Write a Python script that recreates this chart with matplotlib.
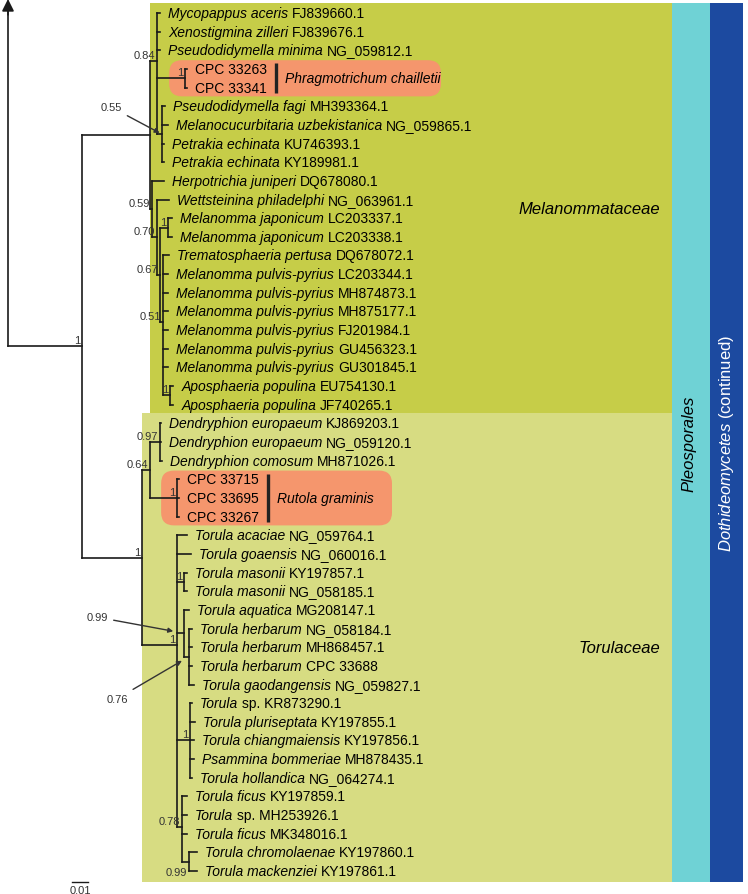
import re
import matplotlib.pyplot as plt
from matplotlib.patches import FancyBboxPatch, Rectangle

plt.rcParams['font.family'] = ['Liberation Sans', 'DejaVu Sans']
plt.rcParams['mathtext.fontset'] = 'custom'
plt.rcParams['mathtext.rm'] = 'Liberation Sans'
plt.rcParams['mathtext.it'] = 'Liberation Sans:italic'

# tip names: italic part and upright part (accession / strain), top to bottom
names = ["Mycopappus aceris", "Xenostigmina zilleri", "Pseudodidymella minima", "", "",
         "Pseudodidymella fagi", "Melanocucurbitaria uzbekistanica", "Petrakia echinata", "Petrakia echinata",
         "Herpotrichia juniperi", "Wettsteinina philadelphi", "Melanomma japonicum", "Melanomma japonicum",
         "Trematosphaeria pertusa"] + ["Melanomma pulvis-pyrius"] * 6 + ["Aposphaeria populina"] * 2 + \
        ["Dendryphion europaeum", "Dendryphion europaeum", "Dendryphion comosum", "", "", "",
         "Torula acaciae", "Torula goaensis", "Torula masonii", "Torula masonii", "Torula aquatica",
         "Torula herbarum", "Torula herbarum", "Torula herbarum", "Torula gaodangensis", "Torula",
         "Torula pluriseptata", "Torula chiangmaiensis", "Psammina bommeriae", "Torula hollandica",
         "Torula ficus", "Torula", "Torula ficus", "Torula chromolaenae", "Torula mackenziei"]
accessions = ["FJ839660.1", "FJ839676.1", "NG_059812.1", "CPC 33263", "CPC 33341",
              "MH393364.1", "NG_059865.1", "KU746393.1", "KY189981.1",
              "DQ678080.1", "NG_063961.1", "LC203337.1", "LC203338.1",
              "DQ678072.1", "LC203344.1", "MH874873.1", "MH875177.1", "FJ201984.1", "GU456323.1",
              "GU301845.1", "EU754130.1", "JF740265.1",
              "KJ869203.1", "NG_059120.1", "MH871026.1", "CPC 33715", "CPC 33695", "CPC 33267",
              "NG_059764.1", "NG_060016.1", "KY197857.1", "NG_058185.1", "MG208147.1",
              "NG_058184.1", "MH868457.1", "CPC 33688", "NG_059827.1", "sp. KR873290.1",
              "KY197855.1", "KY197856.1", "MH878435.1", "NG_064274.1",
              "KY197859.1", "sp. MH253926.1", "MK348016.1", "KY197860.1", "KY197861.1"]

# tree (branch lengths in substitutions/site, posterior probabilities as node labels)
melanommataceae = ("((t0:0.0019,t1:0.0019,t2:0.0019,(t3:0.0013,t4:0.0013)1:0.0175,"
                   "(t5:0.0019,t6:0.0038,t7:0.0013,t8:0.0013)0.55:0.0031)0.84:0.0044,"
                   "(t9:0.0075,(t10:0.0075,((t11:0.0025,t12:0.0025)1:0.005,"
                   "(t13:0.0038,t14:0.0031,t15:0.0031,t16:0.0031,t17:0.0031,t18:0.0031,t19:0.0031,"
                   "(t20:0.0019,t21:0.0019)1:0.0044)0.51:0.0019)0.67:0.0019)0.70:0.0031)0.59:0.0013):0.0425")
torulaceae = ("(((t22:0.0006,t23:0.0006,t24:0.0013)0.97:0.0063,(t25:0.0013,t26:0.0013,t27:0.0013)1:0.0169)0.64:0.005,"
              "(t28:0.0063,t29:0.0088,(t30:0.0019,t31:0.0019)1:0.0044,"
              "(t32:0.0031,(t33:0.0019,t34:0.0019,t35:0.0019,t36:0.0031)0.76:0.0031)0.99:0.0044,"
              "(t37:0.0013,t38:0.0031,t39:0.0025,t40:0.0025,t41:0.0013)1:0.0081,"
              "(t42:0.0031,t43:0.0031,t44:0.0031,(t45:0.005,t46:0.005)0.99:0.0044)0.78:0.0031)1:0.0219)1:0.0375")
newick = "(" + melanommataceae + "," + torulaceae + ")1:0.0463;"

families = ["Melanommataceae", "Torulaceae"]
new_species = ["Phragmotrichum chailletii", "Rutola graminis"]
new_species_tips = [(3, 4), (25, 27)]
order_label = "Pleosporales"
class_label = r"$\it{Dothideomycetes}$ (continued)"


def parse(s):
    pos = 0

    def node():
        nonlocal pos
        kids = []
        if s[pos] == '(':
            pos += 1
            while True:
                kids.append(node())
                if s[pos] == ',':
                    pos += 1
                    continue
                pos += 1
                break
        m = re.match(r'([^:,();]*)(?::([0-9.]+))?', s[pos:])
        pos += m.end()
        return {'label': m.group(1), 'len': float(m.group(2) or 0), 'kids': kids}
    return node()


def layout(n, x0):
    n['x'] = x0 + n['len']
    if n['kids']:
        for k in n['kids']:
            layout(k, n['x'])
        n['y'] = sum(k['y'] for k in n['kids']) / len(n['kids'])
        n['first'] = n['kids'][0]['first']
        n['last'] = n['kids'][-1]['last']
    else:
        n['y'] = int(n['label'][1:])
        n['first'] = n['last'] = n['y']


def walk(n):
    yield n
    for k in n['kids']:
        yield from walk(k)


root = parse(newick)
layout(root, 0.0)
nodes = list(walk(root))
tips = [n for n in nodes if not n['kids']]


def find(a, b):
    return [n for n in nodes if n['kids'] and n['first'] == a and n['last'] == b][0]


fig = plt.figure(figsize=(7.48, 8.95), dpi=100)
ax = fig.add_axes([0, 0, 1, 1])
x0, x1 = -0.005, 0.4625
y0, y1 = 47.23, -0.75
ax.set_xlim(x0, x1)
ax.set_ylim(y0, y1)
ax.axis('off')
PX = (x1 - x0) / 748   # data units per pixel
PY = (y0 - y1) / 895
renderer = fig.canvas.get_renderer()


def xpx(p):
    return x0 + p * PX


def ink_width(s, **kw):
    t = ax.text(0, 0, s, fontsize=10, **kw)
    w = t.get_window_extent(renderer).width
    t.remove()
    return w


lc = '#1a1a1a'
lw = 1.2

# coloured backgrounds
mel, tor = root['kids']
top, bot = -0.54, 46.6
split = mel['last'] + 0.45
ax.add_patch(Rectangle((mel['x'], top), xpx(672) - mel['x'], split - top, color='#c6cd48', lw=0, zorder=0))
ax.add_patch(Rectangle((tor['x'], split), xpx(672) - tor['x'], bot - split, color='#d7dc82', lw=0, zorder=0))
ax.add_patch(Rectangle((xpx(672), top), xpx(710) - xpx(672), bot - top, color='#6fd2d5', lw=0, zorder=0))
ax.add_patch(Rectangle((xpx(710), top), xpx(743) - xpx(710), bot - top, color='#1c4aa0', lw=0, zorder=0))
for fam, clade in zip(families, (mel, tor)):
    ax.text(xpx(660), (clade['first'] + clade['last']) / 2, fam, style='italic', fontsize=12,
            ha='right', va='center')
ax.text(xpx(689), (top + bot) / 2, order_label, style='italic', fontsize=12, rotation=90,
        ha='center', va='center')
ax.text(xpx(727), (top + bot) / 2, class_label, fontsize=12, rotation=90, color='white',
        ha='center', va='center')

# highlighted new species
box_right = [441, 392]
for sp, (a, b), r in zip(new_species, new_species_tips, box_right):
    clade = find(a, b)
    tipx = max(t['x'] for t in tips if a <= t['y'] <= b)
    left = clade['x'] - 16 * PX
    ax.add_patch(FancyBboxPatch((left, a - 0.47), xpx(r) - left, b - a + 0.94,
                                boxstyle=f"round,pad=0,rounding_size={13 * PX}",
                                mutation_aspect=PY / PX, color='#f5966d', lw=0, zorder=1))
    bx = tipx + 89 * PX
    ax.plot([bx, bx], [a - 0.3, b + 0.3], color='#222222', lw=2.4, solid_capstyle='butt', zorder=3)
    ax.text(bx + 9 * PX, (a + b) / 2, sp, style='italic', fontsize=10, va='center', zorder=3)

# branches
ax.plot([0, 0], [root['y'], -0.4], color=lc, lw=lw, zorder=2)
ax.annotate('', xy=(0, -0.75), xytext=(0, 0.1),
            arrowprops=dict(arrowstyle='-|>', color=lc, lw=lw, mutation_scale=18, shrinkA=0, shrinkB=0))
ax.plot([0, root['x']], [root['y'], root['y']], color=lc, lw=lw, zorder=2)
for n in nodes:
    if not n['kids']:
        continue
    ys = [k['y'] for k in n['kids']]
    ax.plot([n['x'], n['x']], [min(ys), max(ys)], color=lc, lw=lw, zorder=2)
    for k in n['kids']:
        ax.plot([n['x'], k['x']], [k['y'], k['y']], color=lc, lw=lw, zorder=2)

# tip labels: italic name, then the accession one space further on
wx = ink_width("x", style='italic')
for n in tips:
    i = n['y']
    shift = 0
    if names[i]:
        ax.annotate(names[i], xy=(n['x'], i), xytext=(8, 0), textcoords='offset pixels',
                    style='italic', fontsize=10, va='center', zorder=3)
        shift = ink_width(names[i] + " x", style='italic') - wx
    ax.annotate(accessions[i], xy=(n['x'], i), xytext=(8 + shift, 0), textcoords='offset pixels',
                fontsize=10, va='center', zorder=3)

# support values
sc = '#333333'
callouts = {(5, 8): (-40, 27, 2), (32, 36): (-76, 16, 8), (33, 36): (-61, -42, 6)}
for n in nodes:
    if not n['kids'] or not n['label']:
        continue
    key = (n['first'], n['last'])
    if key in callouts:
        dx, dy, shr = callouts[key]
        ax.annotate(n['label'], xy=(n['x'], n['y']), xytext=(dx, dy), textcoords='offset pixels',
                    fontsize=8, color=sc, ha='right', va='center',
                    arrowprops=dict(arrowstyle='-|>', color='#333333', lw=1, mutation_scale=7,
                                    shrinkA=2, shrinkB=shr))
    elif key == (45, 46):
        ax.annotate(n['label'], xy=(n['x'], n['y']), xytext=(-2, -5), textcoords='offset pixels',
                    fontsize=8, color=sc, ha='right', va='top')
    else:
        ax.annotate(n['label'], xy=(n['x'], n['y']), xytext=(-2, 1), textcoords='offset pixels',
                    fontsize=8, color=sc, ha='right', va='bottom')

# scale bar
sy = 46.6
ax.plot([0.04, 0.05], [sy, sy], color=lc, lw=1)
ax.text(0.045, sy + 0.15, "0.01", fontsize=8, color=sc, ha='center', va='top')

fig.savefig('out.png', dpi=100)
